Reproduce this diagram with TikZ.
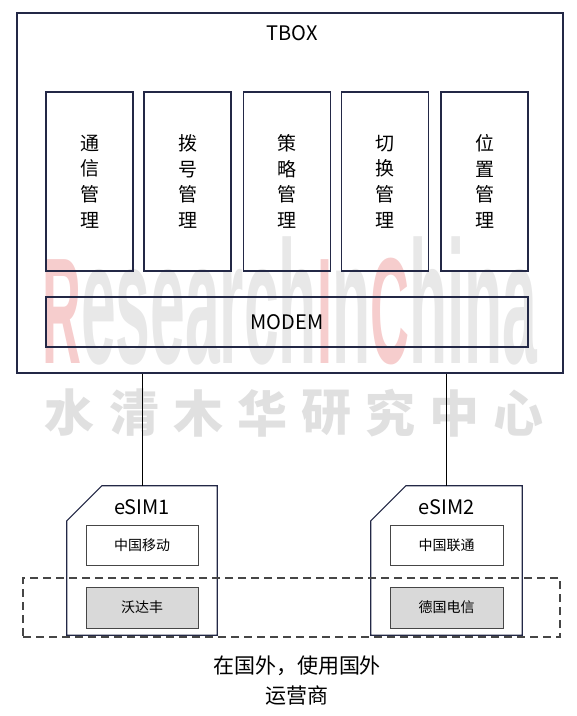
\documentclass[tikz,border=0pt]{standalone}
\usepackage{fontspec}
\setmainfont{Noto Sans CJK SC}
\newfontfamily\wmfont{Liberation Sans}
\usetikzlibrary{calc}
\definecolor{boxnavy}{RGB}{35,40,70}
\definecolor{simgray}{RGB}{217,217,217}
\definecolor{dashgray}{RGB}{70,70,70}
\definecolor{wmred}{RGB}{246,205,205}
\definecolor{wmgray}{RGB}{232,232,232}
\definecolor{wmcngray}{RGB}{224,224,224}

\begin{document}
\begin{tikzpicture}[
        x=1pt, y=-1pt,
        outerbox/.style={rectangle,draw=boxnavy,line width=1.3pt,inner sep=0pt},
        funcbox/.style={rectangle,draw=boxnavy,line width=1.2pt,minimum width=87pt,minimum height=179pt,align=center,inner sep=0pt,font=\fontsize{19}{25.7}\selectfont},
        carrier/.style={rectangle,draw=dashgray,line width=1pt,minimum width=112pt,minimum height=40pt,inner sep=0pt,font=\fontsize{14}{16}\selectfont},
        cardline/.style={draw=boxnavy,line width=1.2pt,fill=white},
        wire/.style={draw=black,line width=1pt},
        wmcn/.style={text=wmcngray,inner sep=0pt,font=\bfseries\fontsize{50}{50}\selectfont},
        ]
        \useasboundingbox (0,0) rectangle (577,716);

        % watermark
        \node[anchor=base west,inner sep=0pt,xscale=0.357](wm_en) at (42,363){\wmfont\bfseries\fontsize{151}{151}\selectfont\color{wmred}R\fontsize{175}{175}\selectfont\color{wmgray}esearch\fontsize{151}{151}\selectfont\color{wmred}I\fontsize{175}{175}\selectfont\color{wmgray}n\fontsize{151}{151}\selectfont\color{wmred}C\fontsize{175}{175}\selectfont\color{wmgray}hina};
        \foreach \ch [count=\i from 0] in {水,清,木,华,研,究,中,心}
            \node[wmcn](wm_cn\i) at (70+64*\i,413){\ch};

        \node[outerbox, minimum width=546pt, minimum height=360pt](tbox) at (290,193){};
        \node[font=\fontsize{20}{24}\selectfont](tbox_label) at (292,33){TBOX};

        \node[funcbox](comm) at (89.5,181.5){通\\信\\管\\理};
        \node[funcbox](dial) at (187.5,181.5){拨\\号\\管\\理};
        \node[funcbox](policy) at (287,181.5){策\\略\\管\\理};
        \node[funcbox](switch) at (385,181.5){切\\换\\管\\理};
        \node[funcbox](locate) at (484.5,181.5){位\\置\\管\\理};
        \node[outerbox, line width=1.2pt, minimum width=482pt, minimum height=50pt, font=\fontsize{20}{24}\selectfont](modem) at (287,322){MODEM};

        % eSIM cards
        \node[minimum width=150pt,minimum height=149pt,inner sep=0pt](esim1) at (142,560.5){};
        \node[minimum width=151pt,minimum height=149pt,inner sep=0pt](esim2) at (446.5,560.5){};
        \draw[cardline] ([xshift=35pt]esim1.north west) -- (esim1.north east) -- (esim1.south east) -- (esim1.south west) -- ([yshift=-35pt]esim1.north west) -- cycle;
        \draw[cardline] ([xshift=35pt]esim2.north west) -- (esim2.north east) -- (esim2.south east) -- (esim2.south west) -- ([yshift=-35pt]esim2.north west) -- cycle;
        \node[font=\fontsize{20}{24}\selectfont](esim1_label) at (142,507){eSIM1};
        \node[font=\fontsize{20}{24}\selectfont](esim2_label) at (446.5,507){eSIM2};

        \node[carrier](cmcc) at (142,545){中国移动};
        \node[carrier, fill=simgray, minimum height=41pt](vodafone) at (142,607.5){沃达丰};
        \node[carrier, minimum width=113pt](cucc) at (446.5,545){中国联通};
        \node[carrier, fill=simgray, minimum width=113pt, minimum height=41pt](telekom) at (446.5,607.5){德国电信};

        \draw[wire] (tbox.south -| esim1.north) -- (esim1.north);
        \draw[wire] (tbox.south -| esim2.north) -- (esim2.north);

        \node[draw=dashgray, line width=1.5pt, dash pattern=on 8pt off 5pt, minimum width=537pt, minimum height=59pt, inner sep=0pt](abroad) at (291.5,607.5){};
        \node[align=center, font=\fontsize{21}{30}\selectfont](note) at (297,681){在国外，使用国外\\运营商};
\end{tikzpicture}
\end{document}
